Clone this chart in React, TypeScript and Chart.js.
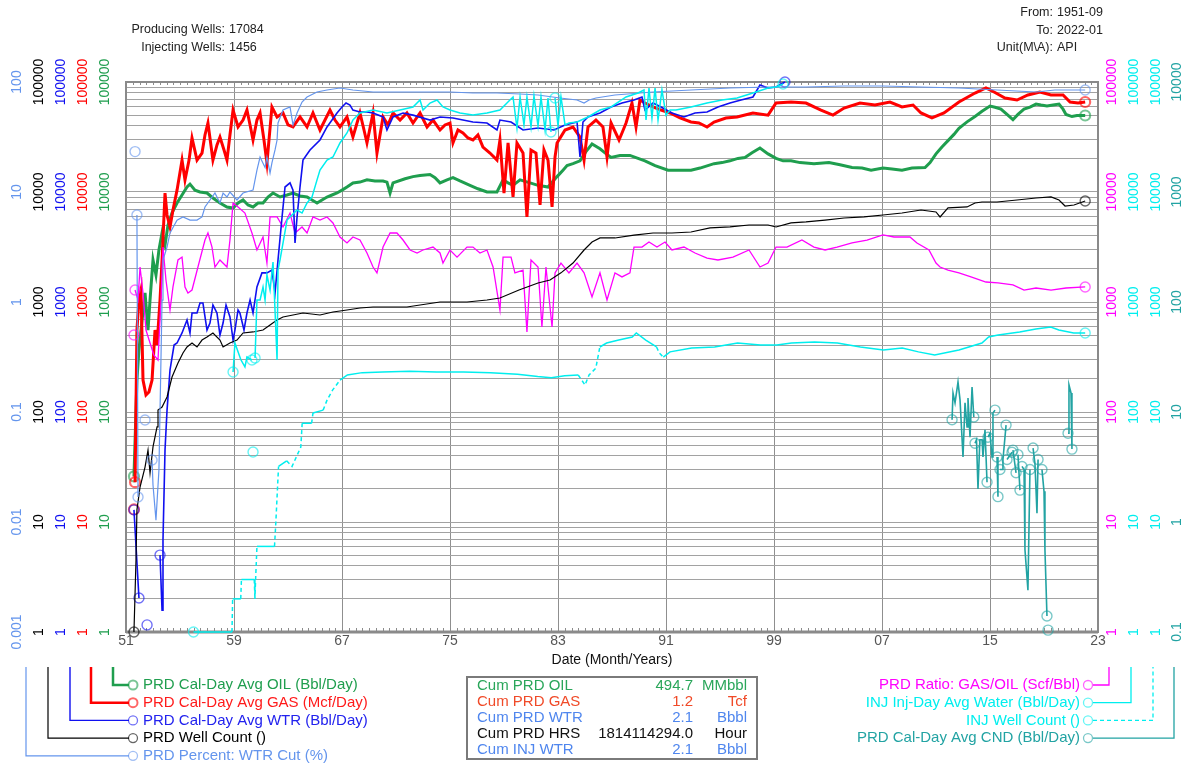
import React, { useEffect, useRef } from 'react';
import { Chart, registerables } from 'chart.js';

Chart.register(...registerables);

type Pt = [number, number] | null;

const FONT = '"Liberation Sans", Arial, Helvetica, sans-serif';

const GREEN = '#1f9e4e';
const RED = '#ff0000';
const BLUE = '#1010f0';
const CORNFLOWER = '#6495ed';
const BLACK = '#000000';
const MAGENTA = '#ff00ff';
const CYAN = '#00eeee';
const TEAL = '#22a3a3';

// ---------- axis / text content ----------
const X_TICK_YEARS = [1951, 1959, 1967, 1975, 1983, 1991, 1999, 2007, 2015, 2023];
const X_TICK_LABELS = ['51', '59', '67', '75', '83', '91', '99', '07', '15', '23'];
const X_TITLE = 'Date (Month/Years)';
const DECADE_LABELS = ['1', '10', '100', '1000', '10000', '100000'];
const CUT_LABELS = ['0.001', '0.01', '0.1', '1', '10', '100'];
const CND_LABELS = ['0.1', '1', '10', '100', '1000', '10000'];

const HEADER_LEFT = [['Producing Wells:', '17084'], ['Injecting Wells:', '1456']];
const HEADER_RIGHT = [['From:', '1951-09'], ['To:', '2022-01'], ['Unit(M\\A):', 'API']];

const CUM_LABELS = ['Cum PRD OIL', 'Cum PRD GAS', 'Cum PRD WTR', 'Cum PRD HRS', 'Cum INJ WTR'];
const CUM_VALUES = ['494.7', '1.2', '2.1', '1814114294.0', '2.1'];
const CUM_UNITS = ['MMbbl', 'Tcf', 'Bbbl', 'Hour', 'Bbbl'];
const CUM_COLORS = ['#2aa65a', '#f04a28', '#4f86ee', '#111111', '#4f86ee'];

const LEGEND_LEFT = [
  'PRD Cal-Day Avg OIL (Bbl/Day)',
  'PRD Cal-Day Avg GAS (Mcf/Day)',
  'PRD Cal-Day Avg WTR (Bbl/Day)',
  'PRD Well Count ()',
  'PRD Percent: WTR Cut (%)',
];
const LEGEND_RIGHT = [
  'PRD Ratio: GAS/OIL (Scf/Bbl)',
  'INJ Inj-Day Avg Water (Bbl/Day)',
  'INJ Well Count ()',
  'PRD Cal-Day Avg CND (Bbl/Day)',
];

// ---------- series ([decimal year, value], null = gap) ----------
const OIL: Pt[] = [
  [1951.59, 26], [1951.81, 195], [1951.96, 366], [1952.19, 686], [1952.41, 1208], [1952.63, 556], [1952.78, 1043],
  [1953.0, 2410], [1953.22, 1760], [1953.44, 2970], [1953.67, 4240], [1953.89, 3300], [1954.11, 5000], [1954.41, 6450],
  [1954.78, 7940], [1955.15, 9390], [1955.52, 11100], [1955.74, 11800], [1956.11, 10400], [1956.48, 10000], [1957.0, 9790],
  [1957.44, 8820], [1957.96, 7940], [1958.48, 7310], [1958.93, 7150], [1959.3, 7940], [1959.67, 8460], [1960.04, 7620],
  [1960.41, 7310], [1960.78, 7940], [1961.15, 7940], [1961.52, 9010], [1961.89, 9790], [1962.41, 9010], [1962.93, 9390],
  [1963.37, 9790], [1963.89, 9200], [1964.41, 9010], [1964.78, 8460], [1965.15, 7940], [1965.52, 8460], [1965.89, 9010],
  [1966.26, 9390], [1966.63, 9790], [1967.0, 10400], [1967.37, 11100], [1967.81, 12100], [1968.33, 12300], [1968.85, 12900],
  [1969.44, 12600], [1970.04, 12600], [1970.33, 12300], [1970.56, 9790], [1970.78, 12100], [1971.67, 13200], [1972.26, 13800],
  [1972.78, 14100], [1973.52, 14400], [1973.89, 13500], [1974.26, 12100], [1974.78, 12900], [1975.22, 13500], [1975.74, 12600],
  [1976.48, 11500], [1977.07, 10700], [1977.74, 10000], [1978.48, 10000], [1978.93, 12900], [1979.3, 12100], [1979.67, 11500],
  [1980.19, 12900], [1980.93, 12100], [1981.52, 11500], [1982.26, 11100], [1982.93, 13800], [1983.37, 15800], [1983.67, 17400],
  [1984.11, 18100], [1984.63, 19200], [1985.07, 23300], [1985.52, 27300], [1986.11, 24700], [1986.48, 22700], [1986.93, 20600],
  [1987.59, 21500], [1988.33, 21500], [1988.93, 20200], [1989.44, 19200], [1990.19, 17400], [1991.15, 15800], [1992.04, 15800],
  [1992.85, 15800], [1993.52, 16500], [1994.56, 18100], [1995.15, 18500], [1995.74, 19200], [1996.33, 20200], [1996.85, 20600],
  [1997.37, 22700], [1997.96, 25100], [1998.56, 22200], [1999.15, 20200], [1999.67, 19200], [2000.26, 19200], [2000.93, 18500],
  [2001.96, 18100], [2003.07, 18500], [2003.89, 17700], [2004.78, 16700], [2005.52, 16500], [2006.19, 15800], [2007.07, 16500],
  [2007.74, 16200], [2008.48, 15800], [2009.22, 16500], [2010.19, 16700], [2010.56, 18500], [2011.0, 22200], [2011.44, 25700],
  [2011.89, 29300], [2012.33, 33400], [2012.7, 38000], [2013.3, 43400], [2013.89, 48500], [2014.41, 54100], [2015.0, 60400],
  [2015.37, 59000], [2015.81, 56600], [2016.26, 50700], [2016.7, 45400], [2017.07, 50700], [2017.52, 56600], [2017.96, 59000],
  [2018.41, 63000], [2018.78, 61700], [2019.22, 60400], [2019.67, 61700], [2020.11, 63000], [2020.41, 56600], [2020.63, 50700],
  [2021.07, 48500], [2021.44, 49600], [2022.05, 49600],
];

const GAS: Pt[] = [
  [1951.59, 13], null,
  [1951.67, 23], [1951.81, 556], [1951.96, 1043], [1952.11, 1285], [1952.26, 195], [1952.48, 143], [1952.7, 152], [1952.93, 195],
  [1953.15, 556], [1953.3, 406], [1953.52, 1043], [1953.67, 2410], [1953.89, 9790], [1954.04, 6180], [1954.26, 4810],
  [1954.48, 6860], [1954.78, 10400], [1955.15, 19500], [1955.37, 12850], [1955.67, 19500], [1955.89, 31000], [1956.26, 19500],
  [1956.63, 22600], [1956.85, 33000], [1957.07, 42400], [1957.44, 19500], [1957.74, 26800], [1957.96, 31600], [1958.26, 24100],
  [1958.48, 19500], [1958.7, 33000], [1958.93, 55600], [1959.3, 39000], [1959.67, 45100], [1959.96, 55600], [1960.19, 40700],
  [1960.41, 29700], [1960.7, 45100], [1960.93, 52300], [1961.22, 29700], [1961.44, 18400], [1961.81, 59300], [1962.19, 48100],
  [1962.63, 52300], [1963.0, 40700], [1963.37, 39000], [1963.89, 48100], [1964.41, 39000], [1964.85, 52300], [1965.37, 36600],
  [1965.74, 45100], [1966.11, 55600], [1966.48, 45100], [1966.85, 39000], [1967.37, 48100], [1967.81, 31600], [1968.33, 52300],
  [1968.63, 36600], [1968.85, 27900], [1969.3, 52300], [1969.59, 22600], [1970.04, 48100], [1970.41, 40700], [1970.78, 52300],
  [1971.3, 45100], [1971.81, 52300], [1972.26, 42400], [1972.78, 52300], [1973.3, 39000], [1973.74, 45100], [1974.26, 36600],
  [1974.63, 40700], [1975.0, 42400], [1975.22, 27900], [1975.59, 36600], [1975.96, 34400], [1976.33, 31000], [1976.7, 29700],
  [1977.07, 33000], [1977.44, 25600], [1977.96, 22600], [1978.48, 19500], [1978.7, 29700], [1979.0, 9790], [1979.3, 27900],
  [1979.67, 9010], [1979.96, 27900], [1980.41, 22600], [1980.7, 5930], [1981.0, 24100], [1981.37, 22600], [1981.67, 7620],
  [1981.96, 24100], [1982.26, 19500], [1982.56, 7310], [1982.78, 20800], [1982.93, 27900], [1983.52, 36600], [1984.11, 39000],
  [1984.63, 31600], [1984.93, 19500], [1985.22, 39000], [1985.81, 45100], [1986.33, 39000], [1986.63, 20800], [1986.93, 42400],
  [1987.52, 29700], [1987.74, 34400], [1988.04, 42400], [1988.48, 64400], [1988.78, 39000], [1989.07, 68600], [1989.44, 64400],
  [1990.04, 59300], [1990.63, 55600], [1991.3, 52300], [1992.04, 47100], [1992.85, 43300], [1993.44, 42400], [1994.04, 39000],
  [1994.56, 43300], [1995.44, 47100], [1996.26, 48100], [1997.44, 52300], [1998.56, 50000], [1999.15, 64400], [2000.26, 65800],
  [2001.37, 64400], [2002.48, 55600], [2003.37, 50000], [2004.19, 58000], [2005.37, 64400], [2006.48, 61800], [2007.59, 65800],
  [2008.48, 59300], [2009.3, 61800], [2009.89, 52300], [2010.7, 47100], [2011.59, 52300], [2012.7, 65800], [2013.89, 79400],
  [2014.7, 88200], [2015.3, 81100], [2016.11, 71500], [2017.0, 68600], [2017.81, 76200], [2018.7, 81100], [2019.52, 76200],
  [2020.41, 76200], [2020.93, 65800], [2021.52, 64400], [2022.05, 65800],
];

const WTR: Pt[] = [
  [1951.59, 12.9], [1951.96, 2.04], null,
  [1952.56, 1.16], null,
  [1953.52, 5.0], [1953.67, 1.58], [1953.74, 6.86], [1953.89, 45.1], [1954.04, 104], [1954.26, 241], [1954.56, 406],
  [1954.78, 424], [1955.15, 523], [1955.52, 686], [1955.74, 523], [1955.89, 794], [1956.26, 794], [1956.48, 979],
  [1956.7, 979], [1957.0, 556], [1957.22, 644], [1957.44, 939], [1957.74, 794], [1957.96, 501], [1958.19, 644],
  [1958.41, 939], [1958.7, 731], [1958.93, 451], [1959.07, 556], [1959.3, 846], [1959.44, 794], [1959.74, 556],
  [1959.96, 794], [1960.19, 1043], [1960.41, 794], [1960.7, 1370], [1961.07, 1840], [1961.44, 1840], [1961.81, 1950],
  [1962.04, 1210], [1962.26, 2410], [1962.56, 5930], [1962.78, 11100], [1963.15, 12100], [1963.37, 10400], [1963.52, 3440],
  [1963.67, 5930], [1963.89, 11100], [1964.11, 19500], [1964.63, 24100], [1965.37, 29700], [1965.89, 39000], [1966.63, 52300],
  [1967.0, 59300], [1967.3, 64400], [1967.59, 61800], [1967.81, 55600], [1968.33, 53400], [1968.85, 53400], [1969.3, 52300],
  [1970.04, 48100], [1970.33, 36600], [1970.78, 48100], [1971.52, 52300], [1972.26, 50000], [1973.52, 45100], [1974.26, 48100],
  [1975.22, 47100], [1975.96, 45100], [1976.7, 43300], [1977.74, 42400], [1978.48, 36600], [1978.7, 45100], [1979.52, 43300],
  [1980.41, 36600], [1981.52, 38200], [1982.7, 36600], [1983.52, 40700], [1984.41, 43300], [1984.63, 20800], [1984.85, 43300],
  [1985.22, 48100], [1986.11, 52300], [1986.93, 59300], [1987.74, 64400], [1988.63, 68600], [1989.22, 73100], [1989.44, 55600],
  [1990.04, 64400], [1990.63, 59300], [1991.44, 52300], [1992.33, 48100], [1993.15, 52300], [1994.04, 53400], [1994.85, 59300],
  [1995.74, 64400], [1996.56, 68600], [1997.44, 73100], [1997.96, 93900], [1998.56, 88200], [1999.15, 90100], [1999.81, 100000],
];

const WTR_CUT: Pt[] = [
  [1951.67, 23.3], null,
  [1951.81, 6.18], [1951.89, 0.0169], null,
  [1952.41, 0.0846], null,
  [1952.93, 0.0366], [1953.0, 0.0217], [1953.22, 0.0104], [1953.44, 0.0297], [1953.67, 1.04], [1953.74, 2.41], [1954.04, 3.16],
  [1954.26, 4.24], [1954.78, 5.55], [1955.22, 5.93], [1955.74, 5.55], [1956.26, 5.55], [1956.63, 5.93], [1956.85, 7.31],
  [1957.22, 8.46], [1957.59, 9.79], [1957.96, 7.94], [1958.19, 9.79], [1958.48, 9.01], [1958.7, 10], [1959.22, 8.46],
  [1959.67, 9.79], [1960.41, 10.4], [1960.7, 15.8], [1960.93, 20.8], [1961.3, 16.7], [1961.44, 20.8], [1961.67, 14.9],
  [1961.81, 18.4], [1962.04, 24.1], [1962.19, 29.7], [1962.26, 42.4], [1962.63, 55.6], [1963.15, 59.3], [1963.37, 40.7],
  [1963.67, 52.3], [1964.04, 65.8], [1964.41, 73.1], [1965.15, 81.1], [1965.89, 84.6], [1966.85, 88.2], [1967.81, 84.6],
  [1969.3, 81.1], [1970.78, 81.1], [1972.78, 81.1], [1975.0, 81.1], [1976.7, 79.4], [1978.48, 79.4], [1980.19, 77.8],
  [1981.52, 76.2], [1983.15, 71.5], [1984.41, 68.6], [1984.93, 64.4], [1985.3, 68.6], [1985.81, 71.5], [1987.22, 76.2],
  [1990.04, 81.1], [1992.85, 84.6], [1995.74, 88.2], [1998.56, 90.1], [2001.37, 90.1], [2004.19, 92], [2007.07, 92],
  [2009.89, 90.1], [2012.7, 88.2], [2015.52, 84.6], [2018.41, 81.1], [2019.81, 84.6], [2022.05, 84.6],
];

const WELLS: Pt[] = [
  [1951.59, 1], [1951.74, 4.5], [1951.81, 12.9], [1952.04, 20.8], [1952.41, 31.6], [1952.63, 45.1], [1952.78, 27.9],
  [1953.0, 48.1], [1953.3, 73.1], [1953.37, 104], [1953.67, 111], [1954.04, 137], [1954.41, 208], [1954.85, 279],
  [1955.22, 344], [1955.52, 390], [1955.89, 424], [1956.26, 390], [1956.63, 451], [1957.0, 481], [1957.44, 523],
  [1957.96, 451], [1958.19, 390], [1958.7, 424], [1959.22, 451], [1959.67, 523], [1960.41, 534], [1961.15, 556],
  [1961.67, 618], [1962.19, 686], [1962.63, 731], [1963.37, 762], [1964.11, 794], [1965.37, 762], [1966.33, 811],
  [1967.37, 846], [1968.33, 882], [1969.3, 901], [1970.33, 901], [1971.81, 901], [1972.78, 939], [1974.26, 1000],
  [1976.26, 1000], [1977.74, 1043], [1978.7, 1087], [1980.11, 1285], [1981.52, 1490], [1982.41, 1585], [1983.22, 1840],
  [1984.11, 2260], [1984.93, 2970], [1985.52, 3510], [1986.11, 3820], [1987.22, 3820], [1988.63, 4060], [1990.04, 4240],
  [1991.44, 4240], [1992.85, 4330], [1994.26, 4710], [1995.74, 4810], [1997.15, 5010], [1998.56, 5010], [1999.15, 4810],
  [2000.26, 5230], [2001.37, 5340], [2002.78, 5560], [2004.19, 5800], [2005.67, 5930], [2007.07, 6180], [2008.48, 6440],
  [2009.89, 6860], [2011.0, 6580], [2011.3, 5930], [2011.89, 7160], [2013.3, 7310], [2013.89, 7940], [2014.41, 8110],
  [2015.52, 8110], [2017.0, 8460], [2018.41, 8820], [2019.52, 9010], [2020.11, 8460], [2020.56, 7460], [2021.22, 7620],
  [2022.05, 8280],
];

const GOR: Pt[] = [
  [1951.59, 501], null,
  [1951.67, 1285], [1951.89, 1043], [1952.04, 2080], [1952.26, 1208], [1952.48, 556], [1952.78, 424], [1953.07, 329],
  [1953.37, 297], [1953.59, 1043], [1953.74, 3160], [1953.96, 1585], [1954.26, 846], [1954.48, 1370], [1954.85, 2410],
  [1955.15, 2560], [1955.37, 1370], [1955.59, 1208], [1955.89, 1285], [1956.33, 2080], [1956.85, 3660], [1957.07, 4240],
  [1957.37, 3160], [1957.59, 2080], [1957.96, 2410], [1958.48, 2080], [1958.7, 3660], [1958.93, 7940], [1959.3, 7310],
  [1959.81, 6440], [1960.33, 4240], [1960.7, 2970], [1961.15, 3900], [1961.44, 2260], [1961.67, 5930], [1962.19, 5930],
  [1962.63, 4810], [1963.15, 6440], [1963.52, 4240], [1964.04, 4810], [1964.41, 4240], [1964.85, 5930], [1965.37, 5560],
  [1965.89, 5930], [1966.33, 5230], [1966.85, 3900], [1967.37, 3440], [1967.81, 3900], [1968.33, 3660], [1968.85, 2790],
  [1969.3, 2080], [1969.59, 1840], [1970.04, 3160], [1970.56, 4240], [1971.07, 4240], [1971.52, 3660], [1972.04, 2970],
  [1972.56, 2790], [1973.0, 2970], [1973.74, 3160], [1974.26, 2790], [1974.48, 2260], [1975.0, 2970], [1975.52, 2560],
  [1976.26, 3160], [1976.7, 3160], [1977.22, 2790], [1977.74, 2970], [1978.19, 2080], [1978.7, 846], [1978.93, 2560],
  [1979.52, 2560], [1979.81, 1840], [1980.41, 1950], [1980.7, 533], [1981.0, 2410], [1981.52, 2080], [1981.81, 593],
  [1982.11, 2080], [1982.56, 593], [1982.78, 1840], [1983.22, 2260], [1983.81, 1840], [1984.41, 2260], [1984.93, 1840],
  [1985.52, 1110], [1986.11, 1840], [1986.63, 1043], [1987.22, 1840], [1987.74, 1690], [1988.33, 1840], [1988.63, 3160],
  [1989.22, 3160], [1989.74, 3510], [1990.33, 3160], [1990.93, 3510], [1991.44, 2970], [1992.33, 3160], [1993.15, 2790],
  [1994.04, 2510], [1994.85, 2410], [1995.96, 2560], [1997.15, 2970], [1997.96, 2080], [1998.56, 2260], [1999.15, 3160],
  [1999.96, 3160], [2001.07, 3660], [2001.96, 3160], [2002.78, 2970], [2003.67, 3160], [2004.78, 3440], [2005.89, 3660],
  [2007.07, 4070], [2007.89, 3900], [2009.07, 3900], [2009.59, 3440], [2010.48, 2970], [2011.0, 2260], [2011.3, 2080],
  [2011.89, 1950], [2012.7, 1840], [2013.59, 1690], [2014.7, 1520], [2015.59, 1490], [2016.7, 1430], [2017.52, 1285],
  [2018.41, 1340], [2019.52, 1285], [2020.63, 1340], [2022.05, 1370],
];

const INJ_WATER: Pt[] = [
  [1958.93, 231], [1959.07, 424], [1959.5, 300], [1959.81, 257], [1959.96, 316], [1960.33, 297], null,
  [1960.41, 43.3], null,
  [1960.56, 310], [1960.7, 1043], [1960.93, 1043], [1961.15, 1370], [1961.3, 1043], [1961.44, 1760], [1961.67, 1285],
  [1961.89, 2310], [1962.19, 297], [1962.26, 1950], [1962.41, 2410], [1962.93, 5560], [1963.15, 5930], [1963.67, 6860],
  [1964.04, 6440], [1964.41, 7940], [1964.78, 9010], [1965.15, 12900], [1965.37, 15800], [1965.89, 19500], [1966.33, 20800],
  [1966.85, 27900], [1967.37, 34400], [1967.81, 45100], [1968.33, 52300], [1969.3, 55600], [1970.33, 52300], [1971.3, 55600],
  [1972.26, 59300], [1972.78, 68600], [1973.0, 55600], [1973.52, 64400], [1974.04, 68600], [1974.48, 59300], [1975.0, 55600],
  [1975.74, 52300], [1976.7, 50000], [1977.74, 52300], [1978.7, 55600], [1979.22, 64400], [1979.44, 68600], [1979.67, 73100],
  [1979.96, 38200], [1980.19, 73100], [1980.48, 40700], [1980.7, 73100], [1981.0, 39000], [1981.22, 74600], [1981.52, 39900],
  [1981.74, 73100], [1982.04, 36600], [1982.26, 71500], [1982.48, 35100], null,
  [1982.78, 71500], [1983.0, 39900], [1983.22, 73100], [1983.52, 40700], [1983.81, 42400], [1984.41, 43300], [1985.22, 48100],
  [1986.11, 55600], [1986.93, 59300], [1988.04, 73100], [1988.93, 79400], [1989.37, 84600], [1989.52, 45100], [1989.74, 88200],
  [1989.96, 47100], [1990.19, 88200], [1990.41, 45100], [1990.7, 84600], [1991.0, 50000], [1991.3, 55600], [1991.74, 55600],
  [1992.85, 59300], [1994.04, 64400], [1995.15, 68600], [1996.26, 71500], [1997.44, 79400], [1998.56, 88200], [1999.15, 90100],
  [1999.67, 95900],
];

const INJ_WELLS: Pt[] = [
  [1956.0, 1], [1958.85, 1], [1958.9, 2], [1959.5, 2], [1959.55, 3], [1960.5, 3], [1960.55, 2], [1960.6, 3], [1960.7, 6],
  [1962.0, 6], [1962.1, 10], [1962.3, 32], [1962.9, 36], [1963.3, 32], [1963.95, 48], [1964.05, 79], [1964.75, 79],
  [1964.85, 98], [1965.6, 104], [1965.9, 129], [1966.3, 158], [1966.85, 195], [1967.4, 217], [1968.5, 228], [1970, 231],
  [1972, 235], [1974, 231], [1976, 231], [1978, 228], [1980, 220], [1981.5, 210], [1982.5, 205], [1983.5, 214], [1984.5, 217],
  [1985.0, 176], [1985.3, 217], [1985.8, 250], [1986.1, 390], [1986.6, 424], [1987.5, 451], [1988.5, 481], [1988.8, 523],
  [1989.5, 451], [1990.3, 390], [1990.5, 344], [1990.8, 316], [1991.3, 352], [1992.9, 382], [1994.6, 390], [1996.3, 424],
  [1998.0, 406], [1999.2, 406], [2000.3, 424], [2002.0, 434], [2003.7, 424], [2005.4, 390], [2007.1, 366], [2008.5, 382],
  [2009.7, 352], [2010.9, 329], [2012.7, 366], [2014.4, 424], [2014.9, 481], [2015.6, 501], [2017.2, 533], [2018.4, 567],
  [2019.5, 593], [2020.1, 556], [2021.2, 523], [2022.05, 523],
];

const CND: Pt[] = [
  [2012.19, 8.5], [2012.26, 14.9], [2012.41, 12.1], [2012.63, 18.7], [2012.78, 12.9], [2013.0, 3.9], [2013.15, 12.1],
  [2013.3, 7.3], [2013.37, 13.4], [2013.52, 5.9], [2013.67, 16.9], [2013.8, 9.0], null,
  [2013.89, 5.2], [2014.0, 5.6], [2014.11, 2.0], [2014.25, 5.6], [2014.41, 5.6], [2014.48, 3.9], [2014.63, 6.9], [2014.78, 2.3], null,
  [2014.85, 5.9], [2015.0, 6.4], [2015.15, 3.9], [2015.22, 9.8], [2015.37, 10.4], null,
  [2015.52, 3.9], [2015.59, 1.7], null,
  [2015.74, 3.0], [2015.89, 3.0], [2015.96, 3.7], [2016.19, 7.6], null,
  [2016.26, 3.7], [2016.63, 4.3], null,
  [2016.7, 4.5], [2016.93, 2.8], null,
  [2017.07, 4.1], [2017.22, 1.95], null,
  [2017.37, 3.2], [2017.52, 3.0], [2017.59, 0.56], [2017.81, 0.24], [2017.96, 3.0], null,
  [2018.19, 4.7], [2018.33, 3.4], [2018.48, 1.2], [2018.56, 3.7], null,
  [2018.85, 3.0], [2019.0, 1.9], [2019.07, 0.56], [2019.22, 0.14], null,
  [2019.3, 0.104], null,
  [2020.78, 6.4], [2020.85, 17.6], [2021.0, 14.9], [2021.07, 4.6],
];

// ---------- helpers ----------
function toXY(pts: Pt[]) {
  const out: { x: number; y: number | null }[] = [];
  let lastX = 1951;
  for (const p of pts) {
    if (p === null) {
      out.push({ x: lastX + 0.01, y: null });
    } else {
      out.push({ x: p[0], y: p[1] });
      lastX = p[0];
    }
  }
  return out;
}

function withAlpha(hex: string, a: number) {
  const n = parseInt(hex.slice(1), 16);
  return `rgba(${(n >> 16) & 255},${(n >> 8) & 255},${n & 255},${a})`;
}

const endpointRadius = (ctx: any) => {
  const d = ctx.dataset.data;
  const i = ctx.dataIndex;
  if (!d[i] || d[i].y == null) return 0;
  const prev = i > 0 ? d[i - 1].y : null;
  const next = i < d.length - 1 ? d[i + 1].y : null;
  return prev == null || next == null ? 5 : 0;
};

function series(label: string, pts: Pt[], axis: string, color: string, width: number, order: number, extra: any = {}) {
  return {
    label,
    data: toXY(pts),
    xAxisID: 'x',
    yAxisID: axis,
    order,
    borderColor: color,
    borderWidth: width,
    pointRadius: endpointRadius,
    pointHoverRadius: 0,
    pointHitRadius: 0,
    pointBorderColor: withAlpha(color, 0.6),
    pointBackgroundColor: 'rgba(0,0,0,0)',
    pointBorderWidth: width > 2 ? 2.2 : 1.4,
    tension: 0,
    spanGaps: false,
    clip: false,
    ...extra,
  };
}

function logTicks(min: number, max: number) {
  const t: { value: number }[] = [];
  const e0 = Math.round(Math.log10(min));
  const e1 = Math.round(Math.log10(max));
  for (let e = e0; e < e1; e++) {
    for (let m = 1; m < 10; m++) t.push({ value: m * Math.pow(10, e) });
  }
  t.push({ value: max });
  return t;
}

const hiddenLog = (min: number, max: number, position: string) => ({
  type: 'logarithmic', display: false, min, max, position,
});

const AXIS_COLUMNS = [
  { id: 'yCut', x: 17, color: CORNFLOWER, labels: CUT_LABELS },
  { id: 'yWell', x: 39, color: BLACK, labels: DECADE_LABELS },
  { id: 'yWtr', x: 61, color: BLUE, labels: DECADE_LABELS },
  { id: 'yGas', x: 83, color: RED, labels: DECADE_LABELS },
  { id: 'yOil', x: 105, color: GREEN, labels: DECADE_LABELS },
  { id: 'yGor', x: 1112, color: MAGENTA, labels: DECADE_LABELS },
  { id: 'yInj', x: 1134, color: CYAN, labels: DECADE_LABELS },
  { id: 'yInjWell', x: 1156, color: CYAN, labels: DECADE_LABELS },
  { id: 'yCnd', x: 1177, color: TEAL, labels: CND_LABELS },
];

const decorPlugin = {
  id: 'decor',
  beforeDatasetsDraw(chart: any) {
    const { ctx, chartArea: a, scales } = chart;
    const xs = scales.x;
    ctx.save();
    ctx.strokeStyle = '#8c8c8c';
    ctx.lineWidth = 1;
    ctx.beginPath();
    for (let t = 1951; t <= 2023.001; t += 0.5) {
      const px = Math.round(xs.getPixelForValue(t)) + 0.5;
      ctx.moveTo(px, a.top);
      ctx.lineTo(px, a.top + 3);
      ctx.moveTo(px, a.bottom);
      ctx.lineTo(px, a.bottom - 4);
    }
    ctx.stroke();
    ctx.strokeStyle = '#8a8a8a';
    ctx.lineWidth = 2;
    ctx.strokeRect(a.left, a.top, a.right - a.left, a.bottom - a.top);
    ctx.lineWidth = 3;
    ctx.beginPath();
    ctx.moveTo(a.left, a.bottom);
    ctx.lineTo(a.right, a.bottom);
    ctx.stroke();
    ctx.restore();
  },
  afterDraw(chart: any) {
    const { ctx, scales } = chart;
    ctx.save();
    ctx.textBaseline = 'middle';

    // header
    ctx.font = `12.5px ${FONT}`;
    ctx.fillStyle = '#222';
    HEADER_LEFT.forEach(([k, v], i) => {
      const y = 30 + i * 18;
      ctx.textAlign = 'right';
      ctx.fillText(k, 225, y);
      ctx.textAlign = 'left';
      ctx.fillText(v, 229, y);
    });
    HEADER_RIGHT.forEach(([k, v], i) => {
      const y = 13 + i * 17.5;
      ctx.textAlign = 'right';
      ctx.fillText(k, 1053, y);
      ctx.textAlign = 'left';
      ctx.fillText(v, 1057, y);
    });

    // rotated axis labels
    ctx.font = `14px ${FONT}`;
    ctx.textAlign = 'center';
    AXIS_COLUMNS.forEach((col) => {
      const sc = scales[col.id];
      ctx.fillStyle = col.color;
      col.labels.forEach((lab) => {
        const py = sc.getPixelForValue(parseFloat(lab));
        ctx.save();
        ctx.translate(col.x, py);
        ctx.rotate(-Math.PI / 2);
        ctx.fillText(lab, 0, 0);
        ctx.restore();
      });
    });

    // x labels + title
    const xs = scales.x;
    ctx.fillStyle = '#555';
    ctx.font = `14px ${FONT}`;
    X_TICK_YEARS.forEach((yr, i) => {
      ctx.fillText(X_TICK_LABELS[i], xs.getPixelForValue(yr), 641);
    });
    ctx.fillStyle = '#111';
    ctx.fillText(X_TITLE, (chart.chartArea.left + chart.chartArea.right) / 2, 660);

    // left legend
    ctx.font = `15px ${FONT}`;
    const leftCols = [
      { color: GREEN, lx: 113, w: 2.5 },
      { color: RED, lx: 91, w: 2.5 },
      { color: BLUE, lx: 70, w: 1.4 },
      { color: BLACK, lx: 48, w: 1.2 },
      { color: CORNFLOWER, lx: 26, w: 1.2 },
    ];
    LEGEND_LEFT.forEach((text, i) => {
      const y = 685 + i * 17.7;
      const c = leftCols[i];
      ctx.strokeStyle = c.color;
      ctx.lineWidth = c.w;
      ctx.setLineDash([]);
      ctx.beginPath();
      ctx.moveTo(c.lx, 667);
      ctx.lineTo(c.lx, y);
      ctx.lineTo(129, y);
      ctx.stroke();
      ctx.strokeStyle = withAlpha(c.color, 0.6);
      ctx.lineWidth = c.w > 2 ? 2 : 1.3;
      ctx.beginPath();
      ctx.arc(133, y, 4.5, 0, Math.PI * 2);
      ctx.stroke();
      ctx.fillStyle = c.color === BLUE ? '#2222ee' : c.color === RED ? '#ff1a1a' : c.color;
      ctx.textAlign = 'left';
      ctx.fillText(text, 143, y);
    });

    // right legend
    const rightCols = [
      { color: MAGENTA, lx: 1109, dash: false },
      { color: CYAN, lx: 1131, dash: false },
      { color: CYAN, lx: 1153, dash: true },
      { color: TEAL, lx: 1174, dash: false },
    ];
    LEGEND_RIGHT.forEach((text, i) => {
      const y = 685 + i * 17.7;
      const c = rightCols[i];
      ctx.strokeStyle = c.color;
      ctx.lineWidth = 1.3;
      ctx.setLineDash(c.dash ? [4, 3] : []);
      ctx.beginPath();
      ctx.moveTo(1093, y);
      ctx.lineTo(c.lx, y);
      ctx.lineTo(c.lx, 667);
      ctx.stroke();
      ctx.setLineDash([]);
      ctx.strokeStyle = withAlpha(c.color, 0.6);
      ctx.beginPath();
      ctx.arc(1088, y, 4.5, 0, Math.PI * 2);
      ctx.stroke();
      ctx.fillStyle = c.color;
      ctx.textAlign = 'right';
      ctx.fillText(text, 1080, y);
    });

    // cumulative table
    ctx.strokeStyle = '#7a7a7a';
    ctx.lineWidth = 2;
    ctx.strokeRect(467, 677, 290, 82);
    CUM_LABELS.forEach((lab, i) => {
      const y = 686 + i * 16;
      ctx.fillStyle = CUM_COLORS[i];
      ctx.textAlign = 'left';
      ctx.fillText(lab, 477, y);
      ctx.textAlign = 'right';
      ctx.fillText(CUM_VALUES[i], 693, y);
      ctx.fillText(CUM_UNITS[i], 747, y);
    });

    ctx.restore();
  },
};

export default function App() {
  const ref = useRef<HTMLCanvasElement>(null);
  useEffect(() => {
    if (!ref.current) return;
    const chart = new Chart(ref.current, {
      type: 'line',
      data: {
        datasets: [
          series('PRD Cal-Day Avg CND (Bbl/Day)', CND, 'yCnd', TEAL, 1.6, 1),
          series('INJ Well Count ()', INJ_WELLS, 'yInjWell', CYAN, 1.5, 2, {
            segment: {
              borderDash: (c: any) => (Math.abs(c.p1.y - c.p0.y) > Math.abs(c.p1.x - c.p0.x) ? [4, 3] : undefined),
            },
          }),
          series('INJ Inj-Day Avg Water (Bbl/Day)', INJ_WATER, 'yInj', CYAN, 1.5, 3),
          series('PRD Percent: WTR Cut (%)', WTR_CUT, 'yCut', CORNFLOWER, 1.2, 4),
          series('PRD Well Count ()', WELLS, 'yWell', BLACK, 1.2, 5),
          series('PRD Cal-Day Avg WTR (Bbl/Day)', WTR, 'yWtr', BLUE, 1.6, 6),
          series('PRD Ratio: GAS/OIL (Scf/Bbl)', GOR, 'yGor', MAGENTA, 1.3, 7),
          series('PRD Cal-Day Avg GAS (Mcf/Day)', GAS, 'yGas', RED, 3, 8),
          series('PRD Cal-Day Avg OIL (Bbl/Day)', OIL, 'yOil', GREEN, 3, 9),
        ],
      },
      options: {
        animation: false,
        responsive: false,
        events: [],
        layout: { padding: { left: 126, right: 87, top: 82, bottom: 131 } },
        plugins: { legend: { display: false }, tooltip: { enabled: false }, title: { display: false } },
        scales: {
          x: {
            type: 'linear',
            min: 1951,
            max: 2023,
            position: 'bottom',
            afterBuildTicks: (ax: any) => {
              ax.ticks = X_TICK_YEARS.map((v) => ({ value: v }));
            },
            grid: { color: '#8f8f8f', lineWidth: 1, drawTicks: false },
            border: { display: false },
            ticks: { display: false },
          },
          yWell: {
            type: 'logarithmic',
            position: 'left',
            min: 1,
            max: 100000,
            afterBuildTicks: (ax: any) => {
              ax.ticks = logTicks(1, 100000);
            },
            grid: { color: '#a2a2a2', lineWidth: 1, drawTicks: false },
            border: { display: false },
            ticks: { display: false },
          },
          yCut: hiddenLog(0.001, 100, 'left'),
          yWtr: hiddenLog(1, 100000, 'left'),
          yGas: hiddenLog(1, 100000, 'left'),
          yOil: hiddenLog(1, 100000, 'left'),
          yGor: hiddenLog(1, 100000, 'right'),
          yInj: hiddenLog(1, 100000, 'right'),
          yInjWell: hiddenLog(1, 100000, 'right'),
          yCnd: hiddenLog(0.1, 10000, 'right'),
        } as any,
      },
      plugins: [decorPlugin],
    } as any);
    return () => chart.destroy();
  }, []);

  return (
    <div style={{ position: 'absolute', left: 0, top: 0, width: 1185, height: 763, background: '#fff' }}>
      <canvas ref={ref} width={1185} height={763} style={{ width: 1185, height: 763, display: 'block' }} />
    </div>
  );
}
